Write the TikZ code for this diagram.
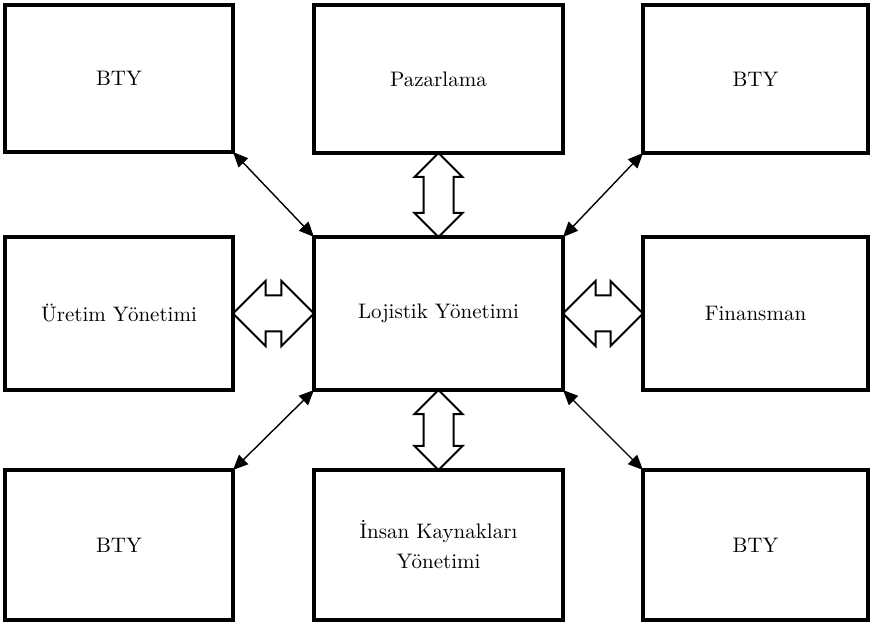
\documentclass[tikz,border=0pt]{standalone}
\usepackage{fontspec}
\usepackage{tikz}
\usetikzlibrary{shapes.arrows,arrows.meta,positioning,calc}

\begin{document}
\begin{tikzpicture}[font=\fontsize{10.5}{15}\selectfont]
\tikzset{box/.style={draw,line width=1.6pt,outer sep=0pt,minimum height=74pt,align=center},
  lcol/.style={minimum width=114pt},mcol/.style={minimum width=124.5pt},rcol/.style={minimum width=112.5pt},
  blk/.style={double arrow,draw,line width=1pt,inner xsep=0pt,outer sep=0pt,double arrow head indent=0pt},
  link/.style={{Triangle[length=7.5pt,width=6.5pt]}-{Triangle[length=7.5pt,width=6.5pt]},line width=0.7pt}}
\useasboundingbox (-219.25pt,-156.25pt) rectangle (216.75pt,156.75pt);
\node[box,mcol,minimum height=76.5pt] (lojistik) at (0,0) {Lojistik Yönetimi};
\node[box,lcol,minimum height=76.5pt,left=40.5pt of lojistik] (uretim) {Üretim Yönetimi};
\node[box,rcol,minimum height=76.5pt,right=40pt of lojistik] (finans) {Finansman};
\node[box,mcol,above=42pt of lojistik] (pazar) {Pazarlama};
\node[box,mcol,below=40pt of lojistik,minimum height=75pt] (insan) {İnsan Kaynakları\\Yönetimi};
\node[box,lcol,above=42.5pt of uretim,minimum height=73.5pt] (bty1) {BTY};
\node[box,rcol,above=42pt of finans] (bty2) {BTY};
\node[box,lcol,below=40pt of uretim,minimum height=75pt] (bty3) {BTY};
\node[box,rcol,below=40pt of finans,minimum height=75pt] (bty4) {BTY};
% block arrows
\node[blk,rotate=90,inner ysep=7pt,double arrow head extend=4.5pt,minimum height=42pt] (ua) at ($(pazar.south)!.5!(lojistik.north)$) {};
\node[blk,rotate=90,inner ysep=7pt,double arrow head extend=4.5pt,minimum height=40pt] (da) at ($(lojistik.south)!.5!(insan.north)$) {};
\node[blk,inner ysep=8.5pt,double arrow head extend=7.25pt,minimum height=40.5pt] (la) at ($(uretim.east)!.5!(lojistik.west)$) {};
\node[blk,inner ysep=8.5pt,double arrow head extend=7.25pt,minimum height=40pt] (ra) at ($(lojistik.east)!.5!(finans.west)$) {};
% thin links
\draw[link] (bty1.south east) -- (lojistik.north west);
\draw[link] (bty2.south west) -- (lojistik.north east);
\draw[link] (bty3.north east) -- (lojistik.south west);
\draw[link] (bty4.north west) -- (lojistik.south east);
\end{tikzpicture}
\end{document}
